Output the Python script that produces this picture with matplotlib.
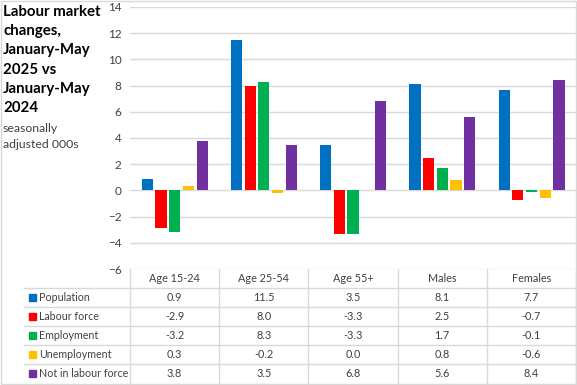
import matplotlib
matplotlib.use("Agg")
import matplotlib.pyplot as plt
import numpy as np

plt.rcParams["font.family"] = ["Lato", "DejaVu Sans"]

categories = ["Age 15-24", "Age 25-54", "Age 55+", "Males", "Females"]
series_names = ["Population", "Labour force", "Employment", "Unemployment", "Not in labour force"]
population = [0.9, 11.5, 3.5, 8.1, 7.7]
labour_force = [-2.9, 8.0, -3.3, 2.5, -0.7]
employment = [-3.2, 8.3, -3.3, 1.7, -0.1]
unemployment = [0.3, -0.2, 0.0, 0.8, -0.6]
not_in_lf = [3.8, 3.5, 6.8, 5.6, 8.4]
colors = ["#0070C0", "#FF0000", "#00B050", "#FFC000", "#7030A0"]

W, H = 577, 385
fig = plt.figure(figsize=(W / 100, H / 100), dpi=100)


def fx(px):
    return px / W


def fy(py):
    return 1 - py / H


ax_l, ax_r, ax_t, ax_b = 130, 576, 7, 269
ax = fig.add_axes([fx(ax_l), fy(ax_b), fx(ax_r - ax_l), fy(ax_t) - fy(ax_b)])

series = [population, labour_force, employment, unemployment, not_in_lf]
x = np.arange(len(categories))
offsets = [-0.305, -0.152, 0.0, 0.155, 0.31]
for vals, off, c in zip(series, offsets, colors):
    ax.bar(x + off, vals, width=0.125, color=c, zorder=3)

ax.set_xlim(-0.5, 4.5)
ax.set_ylim(-6, 14)
ax.set_yticks(range(-6, 15, 2))
ax.set_xticks([])
ax.grid(axis="y", color="#d9d9d9", linewidth=1, zorder=0)
for s in ax.spines.values():
    s.set_visible(False)
ax.tick_params(axis="y", length=0, pad=6, labelsize=8.5, labelcolor="#404040")

# outer border
fig.add_artist(plt.Rectangle((fx(1), fy(384)), fx(575), fy(1) - fy(384),
                             transform=fig.transFigure, fill=False,
                             edgecolor="#d9d9d9", linewidth=1))

# title
title_lines = ["Labour market", "changes,", "January-May", "2025 vs", "January-May", "2024"]
for i, t in enumerate(title_lines):
    fig.text(fx(3), fy(12 + i * 19.2), t, fontsize=10.8, fontweight="bold",
             va="center", ha="left", color="#000000")
fig.text(fx(3), fy(128), "seasonally", fontsize=8.8, va="center", color="#404040")
fig.text(fx(3), fy(145), "adjusted 000s", fontsize=8.8, va="center", color="#404040")

# data table
bounds = [130, 219.2, 308.4, 397.6, 486.8, 576]
line_c = "#d9d9d9"
for b in bounds:
    fig.add_artist(plt.Line2D([fx(b), fx(b)], [fy(269), fy(384)],
                              transform=fig.transFigure, color=line_c, lw=1))
for r in [288, 307, 326, 345, 364]:
    fig.add_artist(plt.Line2D([fx(24), fx(576)], [fy(r), fy(r)],
                              transform=fig.transFigure, color=line_c, lw=1))

for i, cat in enumerate(categories):
    cx = (bounds[i] + bounds[i + 1]) / 2
    fig.text(fx(cx), fy(278), cat, fontsize=7.8, ha="center", va="center", color="#404040")

for j, (name, vals, c) in enumerate(zip(series_names, series, colors)):
    ry = 297.5 + j * 19
    fig.add_artist(plt.Rectangle((fx(29), fy(ry + 3.5)), fx(7), fy(ry - 3.5) - fy(ry + 3.5),
                                 transform=fig.transFigure, color=c))
    fig.text(fx(39), fy(ry), name, fontsize=7.7, ha="left", va="center", color="#404040")
    for i, v in enumerate(vals):
        cx = (bounds[i] + bounds[i + 1]) / 2
        fig.text(fx(cx), fy(ry), f"{v:.1f}", fontsize=7.8, ha="center", va="center", color="#404040")

fig.savefig("out.png", dpi=100)
